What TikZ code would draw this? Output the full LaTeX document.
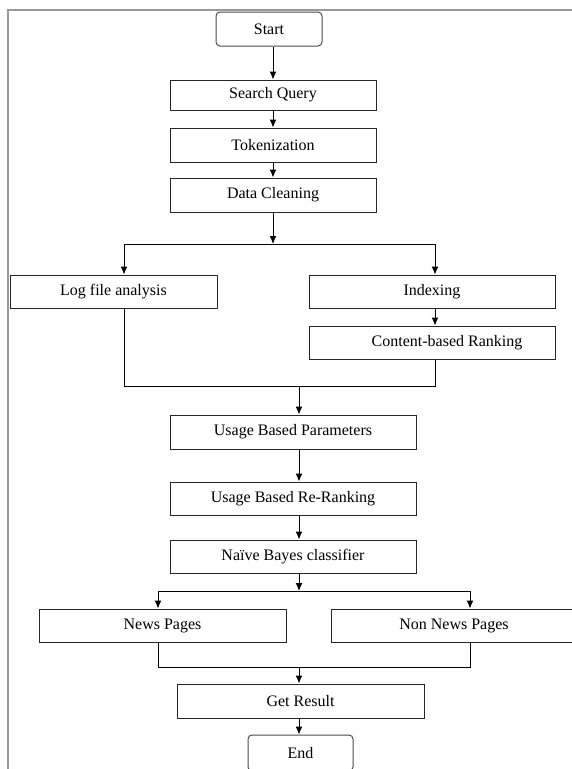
\documentclass[tikz,border=0pt]{standalone}
\usepackage{fontspec}
\setmainfont{Liberation Serif}
\usetikzlibrary{arrows.meta,positioning,calc}

\begin{document}
\begin{tikzpicture}[x=1pt,y=-1pt,>={Latex[length=8pt,width=7pt]}, line width=1pt,
    step box/.style={rectangle,draw=black!85,minimum height=33pt,inner sep=0pt,font=\fontsize{16}{19}\selectfont},
    term box/.style={step box,rounded corners=4pt,draw=black!70}]
  \useasboundingbox (0,0) rectangle (572,769);
  \draw[gray!80,line width=1.3pt] (8,769) -- (8,10) -- (572,10);
    \node[term box,minimum width=106pt,minimum height=34pt] at (269,29) (start) {Start};
  \node[step box,minimum width=206pt,minimum height=30pt] at (273,95) (query) {Search Query};
  \node[step box,minimum width=206pt,minimum height=34pt] at (273,145) (token) {Tokenization};
  \node[step box,minimum width=206pt,minimum height=34pt] at (273,195) (clean) {Data Cleaning};
  \node[step box,minimum width=207pt] at (113.5,291.5) (logfile) {Log file analysis};
  \node[step box,minimum width=246pt] at (432,291.5) (index) {Indexing};
  \node[step box,minimum width=246pt] at (432,342.5) (content) {\hspace*{30pt}Content-based Ranking};
  \node[step box,minimum width=246pt,minimum height=34pt] at (293,432) (usage) {Usage Based Parameters};
  \node[step box,minimum width=246pt] at (293,498.5) (rerank) {Usage Based Re-Ranking};
  \node[step box,minimum width=246pt] at (293,556.5) (bayes) {Naïve Bayes classifier};
  \node[step box,minimum width=247pt] at (162.5,625.5) (news) {News Pages};
  \node[step box,minimum width=246pt] at (454,625.5) (nonnews) {Non News Pages};
  \node[step box,minimum width=247pt,minimum height=34pt] at (300.5,701) (result) {Get Result};
  \node[term box,minimum width=105pt,minimum height=36pt] at (300.5,753) (finish) {End};
    \coordinate (split1) at (273,244);
  \coordinate (split1l) at (124,244); \coordinate (split1r) at (435,244);
  \coordinate (join1) at (299,386);
  \coordinate (join1l) at (124,386); \coordinate (join1r) at (435,386);
  \coordinate (split2) at (299,591);
  \coordinate (split2l) at (158,591); \coordinate (split2r) at (470,591);
  \coordinate (join2) at (299,667);
  \coordinate (join2l) at (158,667); \coordinate (join2r) at (470,667);
  \draw[->] (query.north |- start.south) -- (query);
      \draw[->] (query) -- (token);
      \draw[->] (token) -- (clean);
  \draw[->] (clean) -- (split1);
      \draw (split1l) -- (split1r);
      \draw[->] (split1l) -- (split1l |- logfile.north);
      \draw[->] (split1r) -- (split1r |- index.north);
      \draw[->] (split1r |- index.south) -- (split1r |- content.north);
  \draw (join1l |- logfile.south) -- (join1l) -- (join1r) -- (join1r |- content.south);
      \draw[->] (join1) -- (join1 |- usage.north);
      \draw[->] (join1 |- usage.south) -- (join1 |- rerank.north);
      \draw[->] (join1 |- rerank.south) -- (join1 |- bayes.north);
  \draw[->] (split2 |- bayes.south) -- (split2);
      \draw (split2l) -- (split2r);
      \draw[->] (split2l) -- (split2l |- news.north);
      \draw[->] (split2r) -- (split2r |- nonnews.north);
  \draw (join2l |- news.south) -- (join2l) -- (join2r) -- (join2r |- nonnews.south);
      \draw[->] (join2) -- (join2 |- result.north);
      \draw[->] (join2 |- result.south) -- (join2 |- finish.north);
    \end{tikzpicture}
\end{document}
